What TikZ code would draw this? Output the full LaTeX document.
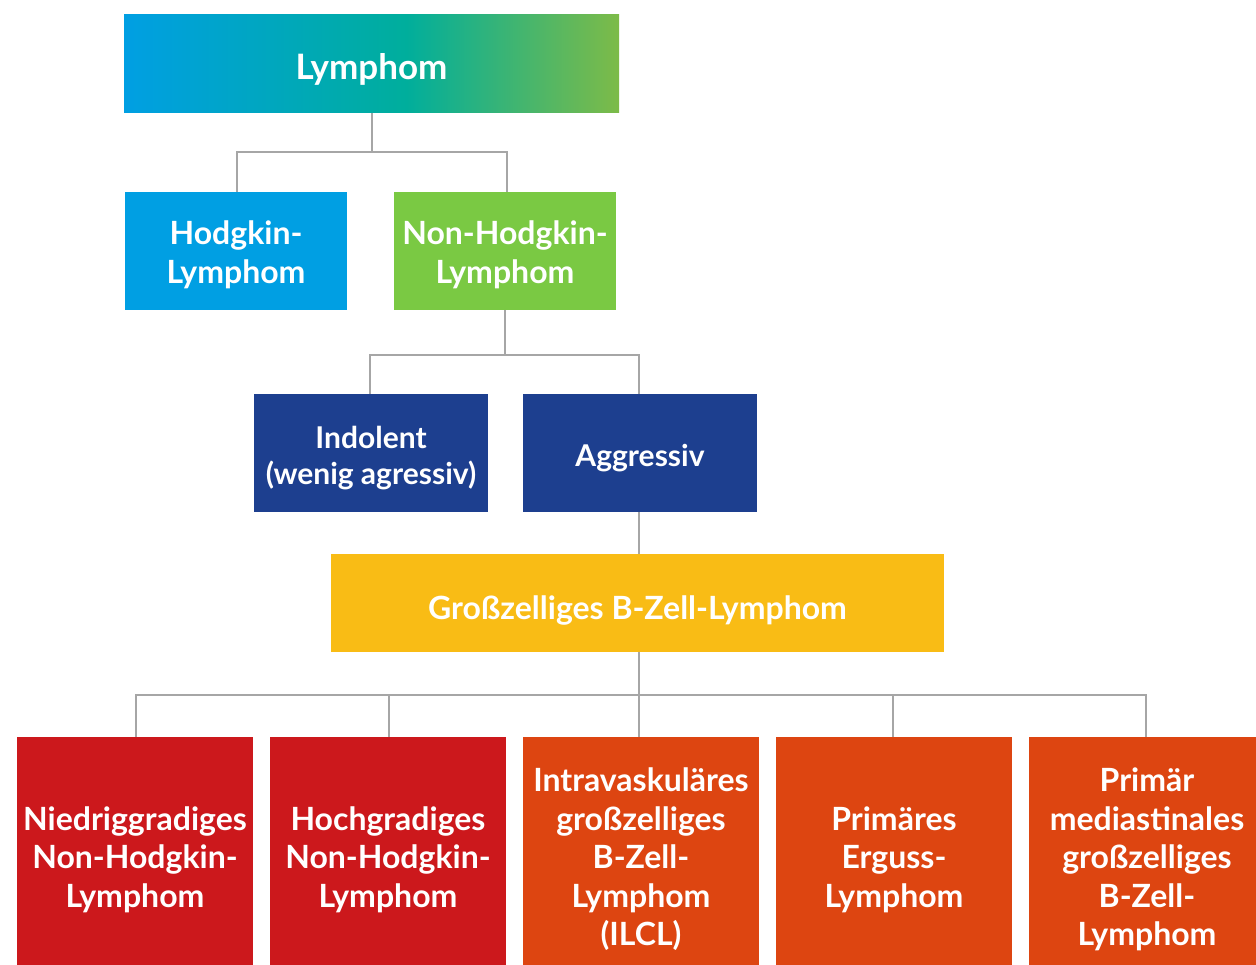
\documentclass[tikz,border=0pt]{standalone}
\usepackage{fontspec}
\setmainfont{Lato}
\definecolor{lblue}{HTML}{009FE3}
\definecolor{lgreen}{HTML}{7AC943}
\definecolor{dblue}{HTML}{1D3F8F}
\definecolor{gyellow}{HTML}{F9BC15}
\definecolor{gred}{HTML}{CC181C}
\definecolor{gorange}{HTML}{DD4511}
\definecolor{lgray}{HTML}{A6A6A6}
\definecolor{gradA}{HTML}{009FE3}
\definecolor{gradB}{HTML}{00AE9C}
\definecolor{gradC}{HTML}{7DBB48}
\pgfdeclarehorizontalshading{lymgrad}{100bp}{color(0bp)=(gradA); color(25bp)=(gradA); color(53.5bp)=(gradB); color(75bp)=(gradC); color(100bp)=(gradC)}
\tikzset{
  box/.style={inner sep=0pt, draw=none},
  lbl/.style={inner sep=0pt, align=center, text=white, font=\bfseries\fontsize{32}{38.5}\selectfont},
  midlbl/.style={lbl, font=\bfseries\fontsize{30}{36}\selectfont},
  conn/.style={draw=lgray, line width=2.5pt},
}
\begin{document}
\begin{tikzpicture}[x=1pt,y=-1pt]
\useasboundingbox (0,0) rectangle (1256,965);
% boxes
\node[box, shading=lymgrad, minimum width=495pt, minimum height=98pt] (lym) at (371.5,64) {};
\node[box, fill=lblue, minimum width=222pt, minimum height=118pt] (hod) at (236,251) {};
\node[box, fill=lgreen, minimum width=222pt, minimum height=118pt] (nhl) at (505,251) {};
\node[box, fill=dblue, minimum width=234pt, minimum height=118pt] (ind) at (371,453) {};
\node[box, fill=dblue, minimum width=234pt, minimum height=118pt] (agg) at (640,453) {};
\node[box, fill=gyellow, minimum width=613pt, minimum height=98pt] (gbz) at (637.5,603) {};
\node[box, fill=gred, minimum width=236pt, minimum height=240pt] (b1) at (135,857) {};
\node[box, fill=gred, minimum width=236pt, minimum height=240pt] (b2) at (388,857) {};
\node[box, fill=gorange, minimum width=236pt, minimum height=240pt] (b3) at (641,857) {};
\node[box, fill=gorange, minimum width=236pt, minimum height=240pt] (b4) at (894,857) {};
\node[box, fill=gorange, minimum width=236pt, minimum height=240pt] (b5) at (1147,857) {};
% labels
\node[lbl, font=\bfseries\fontsize{35}{38}\selectfont] (lym-t) at ([yshift=-5.5pt]lym.center) {Lymphom};
\node[lbl] (hod-t) at ([yshift=-4pt]hod.center) {Hodgkin-\\Lymphom};
\node[lbl] (nhl-t) at ([yshift=-4pt]nhl.center) {Non-Hodgkin-\\Lymphom};
\node[midlbl] (ind-t) at ([yshift=-5pt]ind.center) {Indolent\\(wenig agressiv)};
\node[midlbl] (agg-t) at ([yshift=-5pt]agg.center) {Aggressiv};
\node[lbl] (gbz-t) at ([yshift=-7pt]gbz.center) {Großzelliges B-Zell-Lymphom};
\node[lbl] (b1-t) at ([yshift=-2.5pt]b1.center) {Niedriggradiges\\Non-Hodgkin-\\Lymphom};
\node[lbl] (b2-t) at ([yshift=-2.5pt]b2.center) {Hochgradiges\\Non-Hodgkin-\\Lymphom};
\node[lbl] (b3-t) at ([yshift=-2.5pt]b3.center) {Intravaskuläres\\großzelliges\\B-Zell-\\Lymphom\\(ILCL)};
\node[lbl] (b4-t) at ([yshift=-2.5pt]b4.center) {Primäres\\Erguss-\\Lymphom};
\node[lbl] (b5-t) at ([yshift=-2.5pt]b5.center) {Primär\\mediastinales\\großzelliges\\B-Zell-\\Lymphom};
% connectors
\draw[conn] (372,113) |- (237,152) -- (237,192);
\draw[conn] (372,113) |- (507,152) -- (507,192);
\draw[conn] (505,310) |- (370,355) -- (370,394);
\draw[conn] (505,310) |- (639,355) -- (639,394);
\draw[conn] (639,512) -- (639,554);
\draw[conn] (639,652) -- (639,695) -| (136,737);
\draw[conn] (639,695) -| (389,737);
\draw[conn] (639,695) -- (639,737);
\draw[conn] (639,695) -| (893,737);
\draw[conn] (639,695) -| (1146,737);
\end{tikzpicture}
\end{document}
